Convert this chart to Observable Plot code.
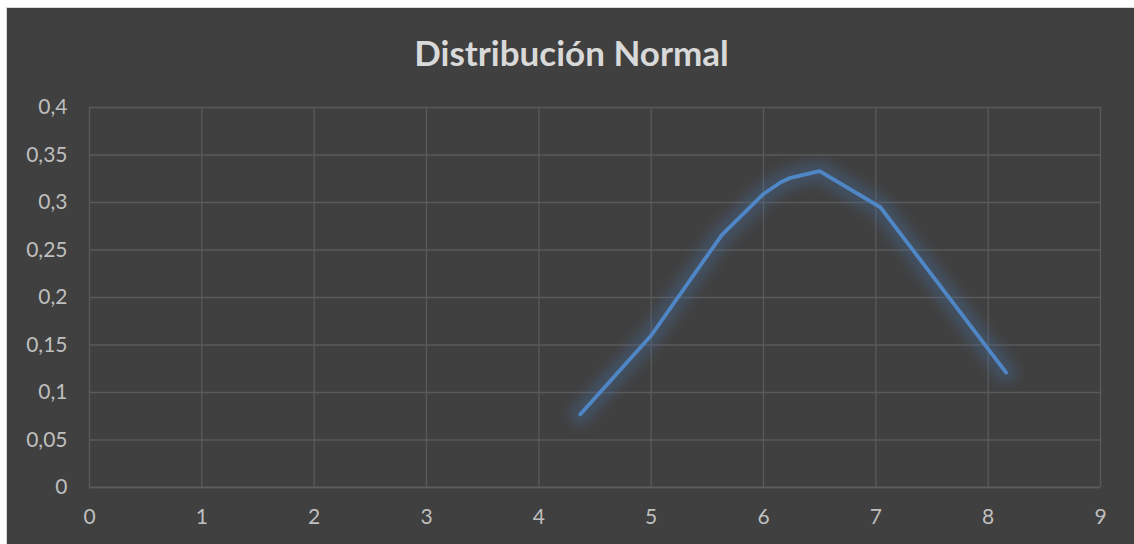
<!DOCTYPE html>
<html>
<head>
<meta charset="utf-8">
<script src="https://cdn.jsdelivr.net/npm/d3@7"></script>
<script src="https://cdn.jsdelivr.net/npm/@observablehq/plot@0.6"></script>
<style>
  html, body { margin: 0; padding: 0; background: #ffffff; }
  #chart {
    position: absolute; left: 6px; top: 7px;
    width: 1127px; height: 536px;
    background: #404040;
    border-left: 1px solid #d9d9d9; border-top: 1px solid #d9d9d9;
    overflow: hidden;
  }
  #title {
    height: 80px; line-height: 88px; text-align: center;
    font-family: Lato, "Open Sans", sans-serif; font-weight: bold;
    font-size: 35px; color: #d9d9d9; padding-left: 2px;
  }
  #chart svg { display: block; }
</style>
</head>
<body>
<div id="chart"><div id="title">Distribución Normal</div></div>
<script>
// Sampled density values of the distribution
const xs = [4.37, 5.0, 5.63, 6.0, 6.15, 6.24, 6.5, 7.04, 8.16];
const ys = [0.077, 0.160, 0.266, 0.309, 0.321, 0.326, 0.333, 0.295, 0.121];

// Axis ticks
const xTicks = [0, 1, 2, 3, 4, 5, 6, 7, 8, 9];
const yTicks = [0, 0.05, 0.1, 0.15, 0.2, 0.25, 0.3, 0.35, 0.4];

const data = xs.map((x, i) => ({x, y: ys[i]}));
const grid = "#5a5a5a";
const blue = "#4f86c6";

const plot = Plot.plot({
  width: 1127,
  height: 456,
  marginLeft: 82,
  marginRight: 34,
  marginTop: 19,
  marginBottom: 57,
  style: {background: "#404040", color: "#bfbfbf", fontFamily: "Lato, 'Open Sans', sans-serif", fontSize: "21px"},
  x: {domain: [0, 9], ticks: xTicks, tickSize: 0, tickPadding: 22, label: null},
  y: {domain: [0, 0.4], ticks: yTicks, tickSize: 0, tickPadding: 22, label: null,
      tickFormat: d => String(d).replace(".", ",")},
  marks: [
    Plot.gridX(xTicks, {stroke: grid, strokeOpacity: 1, strokeWidth: 1.3}),
    Plot.gridY(yTicks, {stroke: grid, strokeOpacity: 1, strokeWidth: 1.3}),
    Plot.ruleY([0], {stroke: "#5e5e5e", strokeWidth: 1.5}),
    // soft halo behind the curve
    Plot.line(data, {x: "x", y: "y", stroke: "#4a78b0", strokeWidth: 22, strokeOpacity: 0.3, strokeLinecap: "round", strokeLinejoin: "round"}),
    Plot.line(data, {x: "x", y: "y", stroke: blue, strokeWidth: 3.8, strokeLinecap: "round", strokeLinejoin: "round"})
  ]
});

const lines = plot.querySelectorAll('g[aria-label="line"]');
if (lines.length) lines[0].style.filter = "blur(6px)";

document.getElementById("chart").appendChild(plot);
</script>
</body>
</html>
